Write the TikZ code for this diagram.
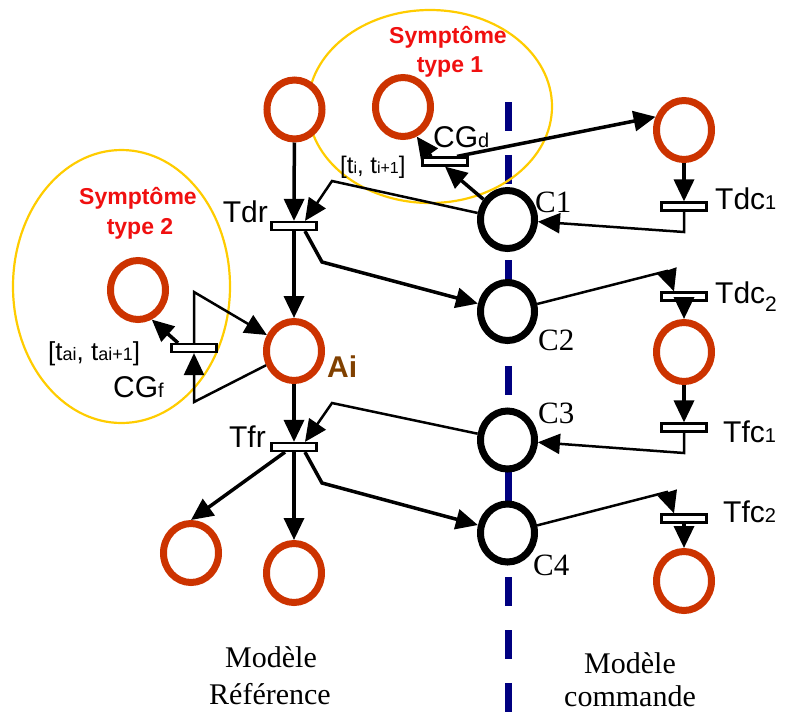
\documentclass[tikz,border=0pt]{standalone}
\usepackage{fontspec}
\setmainfont{Liberation Serif}
\newfontfamily\arialf{Liberation Sans}
\usetikzlibrary{shapes.geometric,arrows.meta,calc}
\definecolor{placered}{HTML}{CC3300}
\definecolor{symred}{HTML}{F01010}
\definecolor{aibrown}{HTML}{804000}
\definecolor{ellyellow}{HTML}{FFCC00}
\definecolor{sepnavy}{HTML}{000080}
\newcommand\smf[2]{{\fontsize{#1}{#1}\selectfont #2}}
\begin{document}
\begin{tikzpicture}[x=1pt,y=-1pt,
  redplace/.style={ellipse, draw=placered, fill=white, line width=7pt, minimum width=55pt, minimum height=59pt, inner sep=0pt},
  blkplace/.style={ellipse, draw=black, fill=white, line width=7pt, minimum width=54pt, minimum height=58pt, inner sep=0pt},
  trans/.style={rectangle, draw=black, fill=white, line width=2.2pt, minimum width=45pt, minimum height=8pt, inner sep=0pt},
  thickarc/.style={line width=3.5pt, -{Triangle[length=22pt,width=20pt]}},
  thinarc/.style={line width=2.5pt, -{Triangle[length=22pt,width=20pt]}},
  sanslab/.style={font=\arialf\fontsize{30}{34}\selectfont, inner sep=0pt},
  seriflab/.style={font=\fontsize{31}{34}\selectfont, inner sep=0pt},
  symlab/.style={font=\arialf\bfseries\fontsize{23}{27}\selectfont, text=symred, inner sep=0pt},
  interlab/.style={font=\arialf\fontsize{24}{26}\selectfont, inner sep=0pt},
  botlab/.style={font=\fontsize{30}{34}\selectfont, inner sep=0pt},
  symell/.style={draw=ellyellow, line width=2.2pt}
]
\useasboundingbox (0,0) rectangle (785,713);

% separator
\draw[sepnavy, line width=7pt, dash pattern=on 29pt off 23.8pt] (508,102) -- (508,713);

% symptom ellipses
\draw[symell] (430,106.5) ellipse [x radius=122pt, y radius=96.5pt];
\draw[symell] (121.5,286.5) ellipse [x radius=108.5pt, y radius=136.5pt];

% red places
\node[redplace] (p1)  at (294.5,109.5) {};
\node[redplace] (ps1) at (403,107) {};
\node[redplace] (pR1) at (684,130) {};
\node[redplace] (ps2) at (138,290) {};
\node[redplace] (ai)  at (294,351) {};
\node[redplace] (pb1) at (191,553) {};
\node[redplace] (pb2) at (294,573) {};
\node[redplace] (pR2) at (684,352) {};
\node[redplace] (pR3) at (684,581) {};

% black places
\node[blkplace] (c1) at (507.5,219.5) {};
\node[blkplace] (c2) at (507.5,311.5) {};
\node[blkplace] (c3) at (507.5,440) {};
\node[blkplace] (c4) at (507.5,533) {};

% transitions
\node[trans] (tdr)  at (294,226) {};
\node[trans] (tfr)  at (294,447) {};
\node[trans] (tcgd) at (445,161.5) {};
\node[trans] (tcgf) at (194,348) {};
\node[trans] (tdc1) at (684,206.5) {};
\node[trans] (tdc2) at (684,296.5) {};
\node[trans] (tfc1) at (684,427.5) {};
\node[trans] (tfc2) at (684,518.5) {};

% corner coordinates
\coordinate (k1)   at (332,181);
\coordinate (k2)   at (322,262);
\coordinate (k3)   at (332,403);
\coordinate (k4)   at (322,483);
\coordinate (kd1)  at (684,232);
\coordinate (kd2)  at (667,271);
\coordinate (kf1)  at (684,453);
\coordinate (kf2)  at (667,492);
\coordinate (kg1)  at (194,402);
\coordinate (kg2)  at (194,292);

% reference model arcs
\draw[thickarc] (p1) -- (tdr.north);
\draw[thinarc] (c1) -- (k1) -- ([xshift=11pt]tdr.north);
\draw[thickarc] ([xshift=11pt]tdr.south) -- (k2) -- (c2);
\draw[thickarc] (tdr.south) -- (ai);
\draw[thickarc] (ai) -- (tfr.north);
\draw[thinarc] (c3) -- (k3) -- ([xshift=11pt]tfr.north);
\draw[thickarc] ([xshift=11pt]tfr.south) -- (k4) -- (c4);
\draw[thickarc] ([xshift=-9pt]tfr.south) -- (pb1.north);
\draw[thickarc] (tfr.south) -- (pb2);

% symptom 1
\draw[thickarc] (c1.140) -- (tcgd.south);
\draw[thickarc] ([xshift=-14pt]tcgd.north) -- (ps1.-65);
\draw[thickarc] ([xshift=12pt]tcgd.north) -- (pR1.155);

% symptom 2
\draw[thickarc] ([xshift=-16pt]tcgf.north) -- (ps2.-65);
\draw[thinarc] (ai) -- (kg1) -- (tcgf.south);
\draw[thinarc] (tcgf.north) -- (kg2) -- (ai);

% command model arcs
\draw[thickarc] (pR1) -- (tdc1.north);
\draw[thinarc] (tdc1.south) -- (kd1) -- (c1);
\draw[thinarc] (c2) -- (kd2) -- ([xshift=-10pt]tdc2.north);
\draw[thickarc] (tdc2.south) -- (pR2);
\draw[thickarc] (pR2) -- (tfc1.north);
\draw[thinarc] (tfc1.south) -- (kf1) -- (c3);
\draw[thinarc] (c4) -- (kf2) -- ([xshift=-10pt]tfc2.north);
\draw[thickarc] (tfc2.south) -- (pR3);

% labels
\node[symlab, anchor=base] (s1a) at (448,43.5) {Symptôme};
\node[symlab, anchor=base] (s1b) at (450,72) {type 1};
\node[symlab, anchor=base] (s2a) at (138,204) {Symptôme};
\node[symlab, anchor=base] (s2b) at (140,234) {type 2};

\node[sanslab, anchor=base west] (lcgd) at (433,147) {CG\smf{20}{d}};
\node[interlab, anchor=base west] (lti) at (340,173) {[t\smf{16}{i}, t\smf{16}{i+1}]};
\node[sanslab, anchor=base east] (ltdr) at (268,222) {Tdr};
\node[sanslab, anchor=base east] (ltfr) at (266,447) {Tfr};
\node[sanslab, anchor=base west, font=\arialf\bfseries\fontsize{30}{34}\selectfont, text=aibrown] (lai) at (327,377) {Ai};
\node[interlab, anchor=base west, font=\arialf\fontsize{26}{28}\selectfont] (ltai) at (48,360) {[t\smf{18}{ai}, t\smf{18}{ai+1}]};
\node[sanslab, anchor=base west] (lcgf) at (113,397) {CG\smf{20}{f}};
\node[sanslab, anchor=base west] (ltdc1) at (715,209) {Tdc\smf{20}{1}};
\node[sanslab, anchor=base west] (ltdc2) at (715,303) {Tdc\raisebox{-8pt}{\smf{21}{2}}};
\node[sanslab, anchor=base west] (ltfc1) at (723,442) {Tfc\smf{20}{1}};
\node[sanslab, anchor=base west] (ltfc2) at (723,522) {Tfc\smf{20}{2}};

\node[seriflab, anchor=base west] (lc1) at (535,212) {C1};
\node[seriflab, anchor=base west] (lc2) at (538,350) {C2};
\node[seriflab, anchor=base west] (lc3) at (538,423) {C3};
\node[seriflab, anchor=base west] (lc4) at (533,575) {C4};

\node[botlab, anchor=base] (mr1) at (271,667) {Modèle};
\node[botlab, anchor=base] (mr2) at (270,704) {Référence};
\node[botlab, anchor=base] (mc1) at (630,673) {Modèle};
\node[botlab, anchor=base] (mc2) at (630,706) {commande};
\end{tikzpicture}
\end{document}
